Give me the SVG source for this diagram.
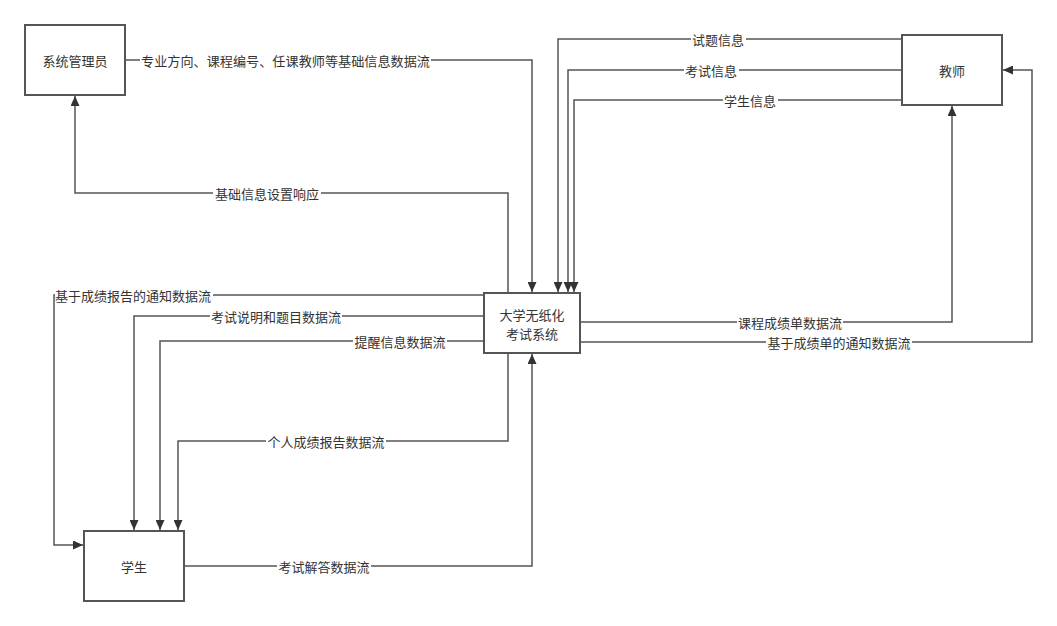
<svg xmlns="http://www.w3.org/2000/svg" width="1057" height="626" viewBox="0 0 1057 626">
<style>
.box{fill:#fff;stroke:#555;stroke-width:2}
.ln{fill:none;stroke:#555;stroke-width:1.5}
.lbg{fill:#fff}
text{font-family:"Noto Sans CJK SC","Noto Sans",sans-serif;font-size:13px;fill:#333;text-anchor:middle;dominant-baseline:central}
</style>
<defs>
<marker id="ah" markerWidth="11" markerHeight="9" refX="10" refY="4.5" orient="auto" markerUnits="userSpaceOnUse">
<path d="M0,0 L10,4.5 L0,9 z" fill="#333"/>
</marker>
</defs>
<rect width="1057" height="626" fill="#fff"/>
<g id="connectors">
<path class="ln" d="M125,60 H532 V292" marker-end="url(#ah)"/>
<path class="ln" d="M508,293 V193 H75 V96" marker-end="url(#ah)"/>
<path class="ln" d="M902,39 H558 V292" marker-end="url(#ah)"/>
<path class="ln" d="M902,70 H568 V292" marker-end="url(#ah)"/>
<path class="ln" d="M902,100 H574 V292" marker-end="url(#ah)"/>
<path class="ln" d="M580,322 H952 V106" marker-end="url(#ah)"/>
<path class="ln" d="M580,342 H1032 V70 H1003" marker-end="url(#ah)"/>
<path class="ln" d="M484,295 H54 V545 H83" marker-end="url(#ah)"/>
<path class="ln" d="M484,316 H134 V530" marker-end="url(#ah)"/>
<path class="ln" d="M484,341 H160 V530" marker-end="url(#ah)"/>
<path class="ln" d="M508,353 V441 H178 V530" marker-end="url(#ah)"/>
<path class="ln" d="M184,566 H532 V354" marker-end="url(#ah)"/>
<g id="labels">
<rect class="lbg" x="140" y="52" width="291" height="16"/><text x="285.5" y="60" textLength="289" lengthAdjust="spacingAndGlyphs">专业方向、课程编号、任课教师等基础信息数据流</text>
<rect class="lbg" x="213" y="185" width="108" height="16"/><text x="267" y="193">基础信息设置响应</text>
<rect class="lbg" x="691" y="31" width="55" height="16"/><text x="718" y="39">试题信息</text>
<rect class="lbg" x="684" y="62" width="55" height="16"/><text x="711" y="70">考试信息</text>
<rect class="lbg" x="723" y="92" width="55" height="16"/><text x="750" y="100">学生信息</text>
<rect class="lbg" x="737" y="314" width="106" height="16"/><text x="790" y="322">课程成绩单数据流</text>
<rect class="lbg" x="766" y="334" width="146" height="16"/><text x="839" y="342">基于成绩单的通知数据流</text>
<rect class="lbg" x="55" y="287" width="158" height="16"/><text x="133" y="295">基于成绩报告的通知数据流</text>
<rect class="lbg" x="210" y="308" width="132" height="16"/><text x="276" y="316">考试说明和题目数据流</text>
<rect class="lbg" x="353" y="333" width="94" height="16"/><text x="400" y="341">提醒信息数据流</text>
<rect class="lbg" x="266" y="433" width="120" height="16"/><text x="326" y="441">个人成绩报告数据流</text>
<rect class="lbg" x="277" y="558" width="94" height="16"/><text x="324" y="566">考试解答数据流</text>
</g>
</g>
<g id="admin">
<rect class="box" x="25" y="25" width="100" height="70"/>
<text x="75" y="60">系统管理员</text>
</g>
<g id="teacher">
<rect class="box" x="902" y="35" width="100" height="70"/>
<text x="952" y="70">教师</text>
</g>
<g id="system">
<rect class="box" x="484" y="293" width="96" height="60"/>
<text x="532" y="314">大学无纸化</text>
<text x="532" y="333">考试系统</text>
</g>
<g id="student">
<rect class="box" x="84" y="531" width="100" height="70"/>
<text x="134" y="566">学生</text>
</g>
</svg>
